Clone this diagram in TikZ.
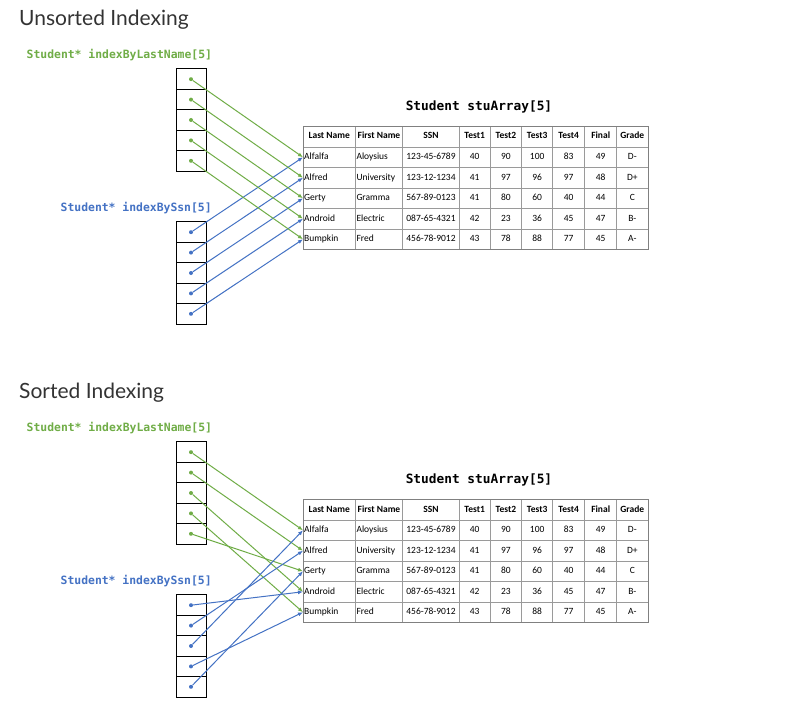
\documentclass[tikz,border=0pt]{standalone}
\usepackage{fontspec}
\setmainfont{Carlito}
\newfontfamily\titlefont{Lato}
\newfontfamily\codefont{DejaVu Sans Mono}
\usetikzlibrary{arrows.meta}
\definecolor{gr}{HTML}{70AD47}
\definecolor{bl}{HTML}{4472C4}
\definecolor{ttl}{HTML}{333333}
\definecolor{gridc}{HTML}{9A9A9A}
\tikzset{
  titletext/.style={inner sep=0pt, text=ttl, font=\titlefont\fontsize{21}{24}\selectfont},
  lbl/.style={inner sep=0pt, font=\codefont\bfseries\fontsize{11.4}{13}\selectfont},
  tabtitle/.style={inner sep=0pt, text=black, font=\codefont\bfseries\fontsize{12.8}{15}\selectfont},
  arrcell/.style={draw=black, line width=1pt, minimum width=30pt, minimum height=20.5pt, inner sep=0pt},
  dotnode/.style={circle, inner sep=0pt, minimum size=4pt},
  hdr/.style={inner sep=1pt, text height=7pt, text depth=2pt, font=\bfseries\fontsize{9.5}{11}\selectfont},
  cell/.style={inner sep=1pt, text height=7pt, text depth=2pt, font=\fontsize{9.5}{11}\selectfont},
  gridline/.style={draw=gridc, line width=0.9pt},
  garrow/.style={draw=gr, line width=1pt, -{Latex[length=5pt,width=4pt]}},
  barrow/.style={draw=bl, line width=1pt, -{Latex[length=5pt,width=4pt]}},
}
\newcommand\sectionpart[2]{%
  \node[titletext, anchor=base west] (#1-title) at (19,25.5) {#2};
  \node[lbl, text=gr, anchor=west] (#1-glbl) at (26.5,55.5) {Student* indexByLastName[5]};
  \node[lbl, text=bl, anchor=west] (#1-blbl) at (60.5,208) {Student* indexBySsn[5]};
  \node[tabtitle] (#1-ttl) at (479,106.5) {Student stuArray[5]};
  \foreach \i in {1,...,5} {
    \node[arrcell] (#1-ga\i) at (191,{69+20.4*(\i-0.5)}) {};
    \node[dotnode, fill=gr] (#1-g\i) at (#1-ga\i.center) {};
    \node[arrcell] (#1-ba\i) at (191,{222+20.4*(\i-0.5)}) {};
    \node[dotnode, fill=bl] (#1-b\i) at (#1-ba\i.center) {};
  }
  \foreach \x in {355.3,402.7,459.3,490,521.7,552.7,584.7,616.7}
    \draw[gridline] (\x,126) -- (\x,249.5);
  \foreach \y in {147,167.5,188,208.5,229}
    \draw[gridline] (303,\y) -- (648,\y);
  \draw[draw=gray, line width=1pt] (303,126) rectangle (648,249.5);
  \foreach \t/\x [count=\k] in {Last Name/329.2, First Name/379, SSN/431, Test1/474.7, Test2/505.9, Test3/537.2, Test4/568.7, Final/600.7, Grade/632.3}
    \node[hdr] (#1-h\k) at (\x,136.5) {\t};
  \foreach \xa/\xb/\xc/\xd/\xe/\xf/\xg/\xh/\xi [count=\r] in {
      Alfalfa/Aloysius/123-45-6789/40/90/100/83/49/D-,
      Alfred/University/123-12-1234/41/97/96/97/48/D+,
      Gerty/Gramma/567-89-0123/41/80/60/40/44/C,
      Android/Electric/087-65-4321/42/23/36/45/47/B-,
      Bumpkin/Fred/456-78-9012/43/78/88/77/45/A-} {
    \pgfmathsetmacro\yy{147+20.5*(\r-0.5)}
    \node[cell, anchor=west] (#1-ln\r) at (303,\yy) {\xa};
    \node[cell, anchor=west] (#1-fn\r) at (355.3,\yy) {\xb};
    \node[cell] (#1-ssn\r) at (431,\yy) {\xc};
    \node[cell] (#1-ta\r) at (474.7,\yy) {\xd};
    \node[cell] (#1-tb\r) at (505.9,\yy) {\xe};
    \node[cell] (#1-tc\r) at (537.2,\yy) {\xf};
    \node[cell] (#1-td\r) at (568.7,\yy) {\xg};
    \node[cell] (#1-fi\r) at (600.7,\yy) {\xh};
    \node[cell] (#1-gd\r) at (632.3,\yy) {\xi};
  }
}
\begin{document}
\begin{tikzpicture}[x=1pt,y=-1pt]
  \useasboundingbox[fill=white] (0,0) rectangle (804,709);
  \begin{scope}
    \sectionpart{U}{Unsorted Indexing}
  \end{scope}
  \begin{scope}[shift={(0,373)}]
    \sectionpart{S}{Sorted Indexing}
  \end{scope}
  % unsorted connectors
  \foreach \i in {1,...,5} {
    \draw[garrow] (U-g\i) -- (U-ln\i.west);
    \draw[barrow] (U-b\i) -- (U-ln\i.west);
  }
  % sorted connectors
  \foreach \i/\j in {1/1,2/2,3/4,4/5,5/3}
    \draw[garrow] (S-g\i) -- (S-ln\j.west);
  \foreach \i/\j in {1/4,2/2,3/1,4/5,5/3}
    \draw[barrow] (S-b\i) -- (S-ln\j.west);
\end{tikzpicture}
\end{document}
